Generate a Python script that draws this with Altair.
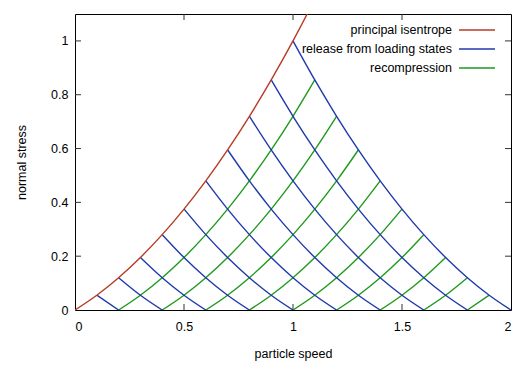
import altair as alt
import pandas as pd

# ---- data ----
u_grid = [0.0, 0.1, 0.2, 0.3, 0.4, 0.5, 0.6, 0.7, 0.8, 0.9, 1.0, 1.1]
isentrope = [0.0, 0.055, 0.12, 0.195, 0.28, 0.375, 0.48, 0.595, 0.72, 0.855, 1.0, 1.155]
loading_states = [1, 2, 3, 4, 5, 6, 7, 8, 9, 10]          # index into u_grid
recompression_starts = [0.2, 0.4, 0.6, 0.8, 1.0, 1.2, 1.4, 1.6, 1.8]
x_ticks = [0.5, 1.0, 1.5]
y_ticks = [0.2, 0.4, 0.6, 0.8, 1.0]
legend_labels = ["principal isentrope", "release from loading states", "recompression"]
legend_colors = ["#b83a26", "#1f3aad", "#1e9a1e"]

W, H = 436, 296
FONT = "Liberation Sans"
FS = 12.5

iso_df = pd.DataFrame({"u": u_grid, "p": isentrope})

rel_rows = []
for n in loading_states:
    for k in range(n + 1):
        rel_rows.append({"id": n, "u": round(u_grid[n] + u_grid[k], 3), "p": isentrope[n - k]})
rel_df = pd.DataFrame(rel_rows)

rec_rows = []
for i, a in enumerate(recompression_starts):
    jmax = int(round((1 - a / 2) * 10))
    for j in range(jmax + 1):
        rec_rows.append({"id": i, "u": round(a + u_grid[j], 3), "p": isentrope[j]})
rec_df = pd.DataFrame(rec_rows)

xs = alt.Scale(domain=[0, 2], nice=False, zero=False)
ys = alt.Scale(domain=[0, 1.1], nice=False, zero=False)

x_axis = alt.Axis(values=[0, 0.5, 1, 1.5, 2], format="~g", ticks=False, domain=False, grid=False,
                  labelPadding=10, title="particle speed", titlePadding=15,
                  labelFont=FONT, titleFont=FONT, labelFontSize=FS, titleFontSize=FS,
                  titleFontWeight="normal", labelColor="#000", titleColor="#000")
y_axis = alt.Axis(values=[0, 0.2, 0.4, 0.6, 0.8, 1.0], format="~g", ticks=False, domain=False, grid=False,
                  labelPadding=7, title="normal stress", titlePadding=22,
                  labelFont=FONT, titleFont=FONT, labelFontSize=FS, titleFontSize=FS,
                  titleFontWeight="normal", labelColor="#000", titleColor="#000")

iso_line = alt.Chart(iso_df).mark_line(color=legend_colors[0], strokeWidth=1.4, clip=True,
                                       interpolate="monotone").encode(
    x=alt.X("u:Q", scale=xs, axis=x_axis),
    y=alt.Y("p:Q", scale=ys, axis=y_axis),
)
rel_lines = alt.Chart(rel_df).mark_line(color=legend_colors[1], strokeWidth=1.4, clip=True,
                                        interpolate="monotone").encode(
    x=alt.X("u:Q", scale=xs), y=alt.Y("p:Q", scale=ys), detail="id:N", order="u:Q")
rec_lines = alt.Chart(rec_df).mark_line(color=legend_colors[2], strokeWidth=1.4, clip=True,
                                        interpolate="monotone").encode(
    x=alt.X("u:Q", scale=xs), y=alt.Y("p:Q", scale=ys), detail="id:N", order="u:Q")

xt = pd.DataFrame({"t": x_ticks})
yt = pd.DataFrame({"t": y_ticks})
tick_color = "#333"
tick_bottom = alt.Chart(xt).mark_rule(color=tick_color, strokeWidth=1).encode(
    x=alt.X("t:Q", scale=xs), y=alt.value(H), y2=alt.value(H - 6))
tick_top = alt.Chart(xt).mark_rule(color=tick_color, strokeWidth=1).encode(
    x=alt.X("t:Q", scale=xs), y=alt.value(0), y2=alt.value(6))
tick_left = alt.Chart(yt).mark_rule(color=tick_color, strokeWidth=1).encode(
    y=alt.Y("t:Q", scale=ys), x=alt.value(0), x2=alt.value(6))
tick_right = alt.Chart(yt).mark_rule(color=tick_color, strokeWidth=1).encode(
    y=alt.Y("t:Q", scale=ys), x=alt.value(W), x2=alt.value(W - 6))

layers = [tick_bottom, tick_top, tick_left, tick_right, rec_lines, rel_lines, iso_line]

leg_df = pd.DataFrame({"label": legend_labels, "color": legend_colors})
row_y = [16, 35, 54]
for i, (lab, col) in enumerate(zip(legend_labels, legend_colors)):
    one = leg_df.iloc[[i]]
    layers.append(alt.Chart(one).mark_text(align="right", baseline="middle", font=FONT,
                                           fontSize=FS, color="#000").encode(
        text="label:N", x=alt.value(377), y=alt.value(row_y[i])))
    layers.append(alt.Chart(one).mark_rule(color=col, strokeWidth=1.4).encode(
        x=alt.value(384), x2=alt.value(420), y=alt.value(row_y[i])))

chart = alt.layer(*layers).properties(
    width=W, height=H,
    autosize=alt.AutoSizeParams(type="none"),
    padding={"left": 67, "top": 6, "right": 10, "bottom": 57},
    background="white",
).configure_view(stroke="#000", strokeWidth=1)

chart.save("out.html", embed_options={"renderer": "svg", "actions": False})
